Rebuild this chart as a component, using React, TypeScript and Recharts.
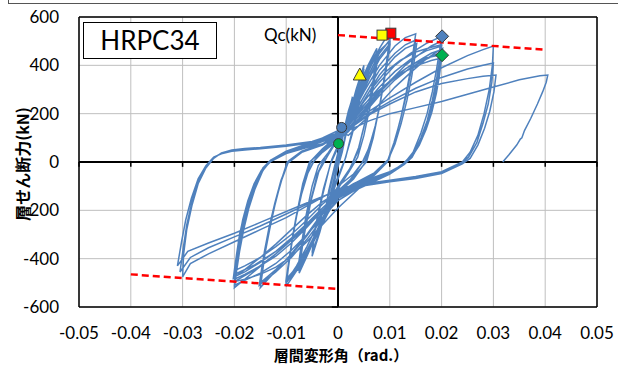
import { ComposedChart, Scatter, XAxis, YAxis, CartesianGrid, ReferenceLine } from 'recharts'

type Pt = [number, number]

const DRIFT_TICKS = [-0.05, -0.04, -0.03, -0.02, -0.01, 0, 0.01, 0.02, 0.03, 0.04, 0.05]
const FORCE_TICKS = [-600, -400, -200, 0, 200, 400, 600]

// 小振幅 (±0.0025, ±0.005)
const CYCLES_SMALL: Pt[] = [
  [0, 0], [0.001, 110], [0.002, 200], [0.0028, 270], [0.002, 170], [0.001, 70], [0, 0],
  [-0.001, -90], [-0.002, -180], [-0.0028, -250], [-0.002, -150], [-0.001, -60], [0, 20],
  [0.001, 120], [0.002, 210], [0.0028, 265], [0.0018, 140], [0.0008, 40], [0, -20],
  [-0.001, -110], [-0.002, -190], [-0.0028, -245], [-0.0018, -120], [-0.0008, -30], [0, 40],
  [0.002, 180], [0.0035, 300], [0.005, 400], [0.0045, 300], [0.003, 150], [0.0015, 20], [0, -60],
  [-0.002, -170], [-0.0035, -290], [-0.005, -390], [-0.0045, -290], [-0.003, -140], [-0.0015, -10], [0, 60],
  [0.002, 190], [0.0035, 295], [0.005, 385], [0.0043, 270], [0.0028, 120], [0.0012, 0], [0, -70],
  [-0.002, -180], [-0.0035, -285], [-0.005, -375], [-0.0043, -260], [-0.0028, -110], [-0.0012, 10], [0, 70],
]

// ±0.0075
const CYCLES_0075: Pt[] = [
  [0.002, 190], [0.004, 310], [0.0058, 400], [0.0075, 470], [0.0068, 340], [0.0055, 190], [0.004, 60],
  [0.0025, -20], [0, -100], [-0.002, -180], [-0.004, -290], [-0.006, -390], [-0.0075, -460],
  [-0.0068, -330], [-0.0055, -180], [-0.004, -50], [-0.0025, 20], [0, 90],
  [0.002, 185], [0.004, 300], [0.006, 400], [0.0075, 455], [0.0067, 320], [0.0053, 170], [0.0038, 40],
  [0.002, -40], [0, -105], [-0.002, -190], [-0.004, -295], [-0.006, -390], [-0.0075, -445],
  [-0.0066, -310], [-0.0052, -160], [-0.0037, -40], [-0.002, 25], [0, 95],
  [0.002, 175], [0.004, 290], [0.006, 385], [0.0078, 450], [0.0072, 360], [0.0062, 230], [0.005, 110], [0.0038, 20],
  [0.002, -45], [0, -110], [-0.002, -200], [-0.004, -300], [-0.006, -385], [-0.0078, -450],
  [-0.0072, -360], [-0.0062, -225], [-0.005, -100], [-0.0038, -15], [-0.002, 35], [0, 100],
]

// ±0.01
const CYCLES_010: Pt[] = [
  [0.002, 170], [0.004, 280], [0.006, 380], [0.008, 470], [0.0095, 522], [0.01, 530],
  [0.0096, 450], [0.009, 360], [0.0082, 250], [0.0068, 100], [0.0055, 0], [0.003, -60], [0, -120],
  [-0.002, -190], [-0.004, -280], [-0.006, -370], [-0.008, -450], [-0.01, -515],
  [-0.0096, -440], [-0.009, -350], [-0.0082, -240], [-0.0068, -90], [-0.0055, 0], [-0.003, 45], [0, 100],
  [0.002, 165], [0.004, 265], [0.006, 365], [0.008, 450], [0.01, 505],
  [0.0095, 430], [0.0088, 330], [0.008, 230], [0.0066, 90], [0.0052, -5], [0.003, -65], [0, -125],
  [-0.002, -195], [-0.004, -285], [-0.006, -370], [-0.008, -445], [-0.01, -500],
  [-0.0095, -425], [-0.0088, -320], [-0.008, -220], [-0.0066, -80], [-0.0052, 5], [-0.003, 50], [0, 105],
  [0.002, 160], [0.004, 255], [0.006, 350], [0.008, 435], [0.01, 490],
  [0.0095, 415], [0.0087, 310], [0.0079, 215], [0.0065, 80], [0.005, -10], [0.003, -70], [0, -130],
  [-0.002, -200], [-0.004, -285], [-0.006, -365], [-0.008, -435], [-0.01, -485],
  [-0.0095, -410], [-0.0087, -300], [-0.0079, -210], [-0.0065, -70], [-0.005, 10], [-0.003, 55], [0, 110],
  [0.002, 180], [0.004, 290], [0.006, 390], [0.008, 460], [0.01, 500],
  [0.0096, 440], [0.009, 350], [0.0082, 250], [0.0072, 150], [0.006, 60], [0.0048, 0], [0.003, -50], [0, -100],
  [-0.002, -170], [-0.004, -260], [-0.006, -350], [-0.008, -430], [-0.01, -495],
  [-0.0096, -430], [-0.009, -340], [-0.0082, -240], [-0.0072, -140], [-0.006, -55], [-0.0048, 0], [-0.003, 40], [0, 90],
  [0.002, 150], [0.004, 250], [0.006, 345], [0.008, 425], [0.01, 480],
  [0.0095, 410], [0.0088, 320], [0.008, 225], [0.007, 130], [0.0058, 50], [0.0046, -5], [0.003, -55], [0, -140],
  [-0.002, -215], [-0.004, -300], [-0.006, -380], [-0.008, -445], [-0.01, -490],
  [-0.0095, -415], [-0.0088, -320], [-0.008, -225], [-0.007, -130], [-0.0058, -45], [-0.0046, 5], [-0.003, 45], [0, 130],
]

// ±0.015
const CYCLES_015: Pt[] = [
  [0.002, 170], [0.005, 290], [0.008, 400], [0.011, 480], [0.013, 515], [0.015, 530],
  [0.0146, 470], [0.0141, 390], [0.0132, 290], [0.0122, 190], [0.011, 90], [0.0098, 10], [0.007, -50], [0.003, -90], [0, -130],
  [-0.003, -210], [-0.006, -300], [-0.009, -380], [-0.012, -450], [-0.015, -520],
  [-0.0146, -460], [-0.0141, -380], [-0.0132, -280], [-0.0122, -180], [-0.011, -80], [-0.0098, 0], [-0.007, 40], [-0.003, 70], [0, 110],
  [0.002, 160], [0.005, 270], [0.008, 380], [0.011, 450], [0.013, 485], [0.015, 505],
  [0.0146, 445], [0.014, 365], [0.0131, 270], [0.012, 170], [0.0108, 80], [0.0095, 0], [0.007, -55], [0.003, -95], [0, -135],
  [-0.003, -215], [-0.006, -305], [-0.009, -385], [-0.012, -445], [-0.015, -500],
  [-0.0146, -440], [-0.014, -360], [-0.0131, -260], [-0.012, -160], [-0.0108, -70], [-0.0095, 5], [-0.007, 45], [-0.003, 75], [0, 115],
  [0.002, 150], [0.005, 255], [0.008, 360], [0.011, 435], [0.013, 470], [0.0152, 490],
  [0.0148, 430], [0.0142, 350], [0.0133, 255], [0.0122, 160], [0.011, 75], [0.0097, 10], [0.007, -45], [0.003, -90], [0, -150],
  [-0.003, -235], [-0.006, -320], [-0.009, -395], [-0.012, -455], [-0.0152, -510],
  [-0.0148, -450], [-0.0142, -370], [-0.0133, -270], [-0.0122, -170], [-0.011, -75], [-0.0097, -5], [-0.007, 40], [-0.003, 70], [0, 110],
]

// ±0.02
const CYCLES_020: Pt[] = [
  [0.002, 160], [0.005, 250], [0.008, 330], [0.011, 400], [0.014, 450], [0.017, 490], [0.02, 520],
  [0.0196, 460], [0.019, 380], [0.0182, 290], [0.0172, 200], [0.016, 120], [0.0145, 40], [0.013, 0], [0.01, -45], [0.006, -80], [0.003, -105], [0, -140],
  [-0.004, -220], [-0.008, -300], [-0.012, -380], [-0.016, -450], [-0.02, -520],
  [-0.0196, -455], [-0.019, -370], [-0.0182, -280], [-0.0172, -190], [-0.016, -110], [-0.0145, -35], [-0.013, 5], [-0.01, 40], [-0.006, 62], [-0.003, 85], [0, 115],
  [0.002, 155], [0.005, 235], [0.008, 310], [0.011, 375], [0.014, 425], [0.017, 460], [0.02, 480],
  [0.0196, 420], [0.019, 340], [0.0182, 255], [0.0172, 170], [0.016, 100], [0.0145, 30], [0.013, -5], [0.01, -48], [0.006, -85], [0.003, -110], [0, -145],
  [-0.004, -225], [-0.008, -305], [-0.012, -380], [-0.016, -445], [-0.02, -495],
  [-0.0196, -430], [-0.019, -345], [-0.0182, -255], [-0.0172, -170], [-0.016, -95], [-0.0145, -25], [-0.013, 8], [-0.01, 42], [-0.006, 66], [-0.003, 88], [0, 118],
  [0.002, 150], [0.005, 225], [0.008, 295], [0.011, 355], [0.014, 400], [0.017, 430], [0.02, 445],
  [0.0196, 385], [0.019, 310], [0.0181, 225], [0.017, 150], [0.0158, 80], [0.0143, 20], [0.0128, -10], [0.01, -50], [0.006, -88], [0.003, -115], [0, -150],
  [-0.004, -225], [-0.008, -300], [-0.012, -370], [-0.016, -425], [-0.02, -465],
  [-0.0196, -400], [-0.019, -320], [-0.0181, -235], [-0.017, -155], [-0.0158, -85], [-0.0143, -25], [-0.0128, 10], [-0.01, 45], [-0.006, 70], [-0.003, 92], [0, 120],
  [0.002, 140], [0.004, 190], [0.007, 265], [0.01, 330], [0.013, 385], [0.016, 425], [0.018, 450], [0.02, 465],
  [0.0196, 400], [0.019, 320], [0.0182, 240], [0.0172, 160], [0.016, 90], [0.0145, 30], [0.013, -5], [0.01, -45], [0.006, -80], [0.003, -105], [0, -135],
  [-0.003, -200], [-0.006, -270], [-0.009, -335], [-0.012, -390], [-0.015, -430], [-0.018, -465], [-0.02, -485],
  [-0.0196, -420], [-0.019, -330], [-0.0182, -240], [-0.0172, -160], [-0.016, -90], [-0.0145, -30], [-0.013, 5], [-0.01, 40], [-0.006, 65], [-0.003, 85], [0, 110],
  [0.002, 130], [0.004, 180], [0.007, 260], [0.01, 335], [0.013, 400], [0.016, 450], [0.018, 480], [0.02, 500],
  [0.0197, 430], [0.0191, 340], [0.0183, 250], [0.0173, 165], [0.0161, 95], [0.0147, 35], [0.0132, 0], [0.01, -50], [0.006, -90], [0.003, -120], [0, -160],
  [-0.003, -230], [-0.006, -300], [-0.009, -365], [-0.012, -420], [-0.015, -460], [-0.018, -490], [-0.02, -510],
  [-0.0197, -440], [-0.0191, -345], [-0.0183, -250], [-0.0173, -165], [-0.0161, -95], [-0.0147, -35], [-0.0132, 0], [-0.01, 35], [-0.006, 60], [-0.003, 75], [0, 95],
  [0.002, 170], [0.004, 215], [0.007, 280], [0.01, 335], [0.013, 375], [0.016, 405], [0.018, 420], [0.02, 430],
  [0.0196, 360], [0.019, 285], [0.0181, 205], [0.017, 135], [0.0157, 70], [0.0142, 20], [0.0127, -10], [0.01, -40], [0.006, -70], [0.003, -95], [0, -120],
  [-0.003, -175], [-0.006, -240], [-0.009, -300], [-0.012, -350], [-0.015, -395], [-0.018, -430], [-0.02, -450],
  [-0.0196, -385], [-0.019, -300], [-0.0181, -215], [-0.017, -140], [-0.0157, -75], [-0.0142, -20], [-0.0127, 10], [-0.01, 45], [-0.006, 75], [-0.003, 100], [0, 130],
  [0.002, 110], [0.005, 170], [0.008, 240], [0.011, 310], [0.014, 370], [0.017, 425], [0.019, 455], [0.0202, 470],
  [0.0198, 410], [0.0192, 330], [0.0184, 245], [0.0174, 165], [0.0162, 95], [0.0148, 40], [0.0134, 5], [0.011, -35], [0.007, -70], [0.003, -100], [0, -125],
  [-0.003, -165], [-0.006, -220], [-0.009, -280], [-0.012, -340], [-0.015, -395], [-0.018, -445], [-0.0202, -480],
  [-0.0198, -415], [-0.0192, -330], [-0.0184, -240], [-0.0174, -160], [-0.0162, -90], [-0.0148, -35], [-0.0134, 0], [-0.011, 30], [-0.007, 55], [-0.003, 75], [0, 100],
  [0.002, 150], [0.004, 220], [0.006, 290], [0.009, 370], [0.012, 420], [0.015, 455], [0.018, 475], [0.02, 485],
  [0.0197, 425], [0.0191, 345], [0.0183, 260], [0.0174, 180], [0.0163, 110], [0.015, 55], [0.0136, 15], [0.012, -20], [0.008, -60], [0.004, -110], [0, -190],
  [-0.003, -260], [-0.006, -330], [-0.009, -390], [-0.012, -435], [-0.015, -465], [-0.018, -485], [-0.02, -495],
  [-0.0197, -435], [-0.0191, -350], [-0.0183, -260], [-0.0174, -175], [-0.0163, -105], [-0.015, -50], [-0.0136, -10], [-0.012, 20], [-0.008, 50], [-0.004, 70], [0, 90],
  [0.002, 125], [0.005, 200], [0.008, 275], [0.011, 340], [0.014, 390], [0.017, 425], [0.02, 455],
  [0.0196, 390], [0.019, 305], [0.0181, 220], [0.017, 145], [0.0157, 80], [0.0142, 25], [0.0126, -10], [0.01, -40], [0.006, -75], [0.003, -100], [0, -130],
  [-0.003, -190], [-0.006, -255], [-0.009, -315], [-0.012, -370], [-0.015, -415], [-0.018, -455], [-0.02, -475],
  [-0.0196, -410], [-0.019, -325], [-0.0181, -235], [-0.017, -150], [-0.0157, -80], [-0.0142, -25], [-0.0126, 10], [-0.01, 40], [-0.006, 68], [-0.003, 90], [0, 115],
]

// ±0.03
const CYCLES_030: Pt[] = [
  [0.003, 160], [0.006, 210], [0.01, 265], [0.015, 330], [0.02, 390], [0.025, 440], [0.028, 465], [0.03, 480],
  [0.0298, 400], [0.0292, 300], [0.0282, 200], [0.027, 110], [0.0255, 40], [0.024, 0], [0.02, -40],
  [0.015, -60], [0.01, -75], [0.005, -90], [0, -110], [-0.005, -170], [-0.01, -230], [-0.015, -280],
  [-0.02, -330], [-0.025, -380], [-0.0285, -420], [-0.03, -475],
  [-0.0298, -380], [-0.0292, -280], [-0.0282, -180], [-0.027, -90], [-0.0255, -25], [-0.024, 15],
  [-0.0225, 38], [-0.0205, 50], [-0.018, 56], [-0.015, 60], [-0.01, 70], [-0.005, 85], [0, 120],
  [0.003, 155], [0.006, 200], [0.01, 250], [0.015, 305], [0.02, 350], [0.025, 385], [0.028, 400], [0.03, 410],
  [0.0297, 330], [0.029, 240], [0.028, 160], [0.0268, 80], [0.0252, 20], [0.0238, -5], [0.02, -45],
  [0.015, -65], [0.01, -80], [0.005, -95], [0, -115], [-0.005, -165], [-0.01, -215], [-0.015, -265],
  [-0.02, -310], [-0.025, -355], [-0.0285, -395], [-0.0305, -455],
  [-0.0299, -360], [-0.0292, -260], [-0.0282, -165], [-0.027, -80], [-0.0255, -20], [-0.024, 18],
  [-0.0225, 36], [-0.0205, 47], [-0.018, 52], [-0.015, 58], [-0.01, 68], [-0.005, 82], [0, 115],
  [0.003, 150], [0.006, 195], [0.01, 240], [0.015, 290], [0.02, 325], [0.025, 345], [0.028, 355], [0.0305, 360],
  [0.0301, 290], [0.0293, 210], [0.0283, 140], [0.027, 70], [0.0255, 15], [0.024, -8], [0.02, -48],
  [0.015, -68], [0.01, -82], [0.005, -98], [0, -118], [-0.005, -160], [-0.01, -205], [-0.015, -250],
  [-0.02, -295], [-0.025, -335], [-0.029, -370], [-0.031, -430],
  [-0.0302, -330], [-0.0294, -240], [-0.0283, -150], [-0.027, -70], [-0.0255, -15], [-0.024, 20],
  [-0.0225, 34], [-0.0205, 44], [-0.018, 50], [-0.015, 55], [-0.01, 65], [-0.005, 80], [0, 110],
]

// 最終 +0.04 → 除荷
const FINAL_040: Pt[] = [
  [0.003, 140], [0.006, 170], [0.01, 200], [0.015, 225], [0.02, 250], [0.025, 280], [0.03, 310],
  [0.035, 340], [0.039, 357], [0.0405, 360],
  [0.0402, 330], [0.0395, 290], [0.0385, 240], [0.0372, 180], [0.036, 130], [0.0355, 100],
  [0.0352, 95], [0.0345, 70], [0.033, 30], [0.0318, 0],
]

const HYSTERESIS = [
  ...CYCLES_SMALL, ...CYCLES_0075, ...CYCLES_010, ...CYCLES_015, ...CYCLES_020, ...CYCLES_030, ...FINAL_040,
].map(([x, y]) => ({ x, y }))

// Qc 計算値ライン
const QC_POS = [{ x: 0, y: 525 }, { x: 0.04, y: 465 }]
const QC_NEG = [{ x: -0.04, y: -465 }, { x: 0, y: -525 }]

// 特性点
const PT_RED_SQ = [{ x: 0.0102, y: 533 }]
const PT_YEL_SQ = [{ x: 0.0085, y: 525 }]
const PT_YEL_TRI = [{ x: 0.0042, y: 360 }]
const PT_BLUE_DIA = [{ x: 0.0201, y: 520 }]
const PT_GREEN_DIA = [{ x: 0.0201, y: 442 }]
const PT_BLUE_CIR = [{ x: 0.0007, y: 143 }]
const PT_GREEN_CIR = [{ x: 0.0001, y: 76 }]

const BLUE = '#4f81bd'
const FONT = 'Lato, "Noto Sans", sans-serif'
const JP = '"Noto Sans CJK JP", sans-serif'

const none = () => <g />

const square = (fill: string) => (p: any) => (
  <rect x={p.cx - 5} y={p.cy - 5} width={10} height={10} fill={fill} stroke="#3a3a3a" strokeWidth={1} />
)
const triangle = (fill: string) => (p: any) => (
  <polygon points={`${p.cx},${p.cy - 7} ${p.cx + 6.5},${p.cy + 5} ${p.cx - 6.5},${p.cy + 5}`} fill={fill} stroke="#3a3a3a" strokeWidth={1} />
)
const diamond = (fill: string) => (p: any) => (
  <polygon points={`${p.cx},${p.cy - 6.5} ${p.cx + 6.5},${p.cy} ${p.cx},${p.cy + 6.5} ${p.cx - 6.5},${p.cy}`} fill={fill} stroke="#3a3a3a" strokeWidth={1} />
)
const circle = (fill: string) => (p: any) => (
  <circle cx={p.cx} cy={p.cy} r={5} fill={fill} stroke="#3a3a3a" strokeWidth={1} />
)

export default function App() {
  return (
    <div style={{ position: 'absolute', left: 0, top: 0, width: 618, height: 367, background: '#fff', fontFamily: FONT, overflow: 'hidden' }}>
      <div style={{ position: 'absolute', left: 8, top: 0, width: 610, height: 3, borderLeft: '1px solid #555', borderBottom: '1px solid #555' }} />
      <ComposedChart width={618} height={367} margin={{ top: 17, right: 21, bottom: 30, left: 0 }}>
        <CartesianGrid stroke="#bfbfbf" strokeWidth={1} />
        <XAxis
          type="number"
          dataKey="x"
          domain={[-0.05, 0.05]}
          ticks={DRIFT_TICKS}
          allowDataOverflow
          height={30}
          tickLine={false}
          tickSize={0}
          tickMargin={20}
          axisLine={{ stroke: '#000', strokeWidth: 1.5 }}
          tick={{ fontSize: 17, fill: '#000', fontFamily: FONT }}
        />
        <YAxis
          type="number"
          dataKey="y"
          domain={[-600, 600]}
          ticks={FORCE_TICKS}
          allowDataOverflow
          width={79}
          tickLine={false}
          tickSize={0}
          tickMargin={20}
          axisLine={{ stroke: '#000', strokeWidth: 1.5 }}
          tick={{ fontSize: 17, fill: '#000', fontFamily: FONT }}
        />
        <ReferenceLine y={600} stroke="#000" strokeWidth={1.5} />
        <ReferenceLine x={0.05} stroke="#000" strokeWidth={1.5} />
        <ReferenceLine y={0} stroke="#000" strokeWidth={2} />
        <ReferenceLine x={0} stroke="#000" strokeWidth={2} />
        {DRIFT_TICKS.map((t) => (
          <ReferenceLine key={`xt${t}`} segment={[{ x: t, y: 0 }, { x: t, y: -20 }]} stroke="#000" strokeWidth={1.5} />
        ))}
        {FORCE_TICKS.map((t) => (
          <ReferenceLine key={`yt${t}`} segment={[{ x: 0, y: t }, { x: -0.0012, y: t }]} stroke="#000" strokeWidth={1.5} />
        ))}
        <Scatter
          data={HYSTERESIS}
          fill={BLUE}
          line={{ stroke: BLUE, strokeWidth: 1.5 }}
          lineType="joint"
          shape={none}
          isAnimationActive={false}
        />
        <Scatter
          data={QC_POS}
          fill="#ff0000"
          line={{ stroke: '#ff0000', strokeWidth: 2.5, strokeDasharray: '7 4' }}
          lineType="joint"
          shape={none}
          isAnimationActive={false}
        />
        <Scatter
          data={QC_NEG}
          fill="#ff0000"
          line={{ stroke: '#ff0000', strokeWidth: 2.5, strokeDasharray: '7 4' }}
          lineType="joint"
          shape={none}
          isAnimationActive={false}
        />
        <Scatter data={PT_RED_SQ} shape={square('#ff0000')} isAnimationActive={false} />
        <Scatter data={PT_YEL_SQ} shape={square('#ffff00')} isAnimationActive={false} />
        <Scatter data={PT_YEL_TRI} shape={triangle('#ffff00')} isAnimationActive={false} />
        <Scatter data={PT_BLUE_DIA} shape={diamond(BLUE)} isAnimationActive={false} />
        <Scatter data={PT_GREEN_DIA} shape={diamond('#00b050')} isAnimationActive={false} />
        <Scatter data={PT_BLUE_CIR} shape={circle(BLUE)} isAnimationActive={false} />
        <Scatter data={PT_GREEN_CIR} shape={circle('#00b050')} isAnimationActive={false} />
      </ComposedChart>
      <div
        style={{
          position: 'absolute', left: 83, top: 22, width: 132, height: 35, border: '1px solid #000',
          background: '#fff', fontSize: 26, lineHeight: '35px', textAlign: 'center', color: '#000',
        }}
      >
        HRPC34
      </div>
      <div style={{ position: 'absolute', left: 264, top: 25, fontSize: 17, lineHeight: '20px', color: '#000' }}>Qc(kN)</div>
      <div
        style={{
          position: 'absolute', left: 341, top: 347, transform: 'translateX(-50%)', whiteSpace: 'nowrap',
          fontFamily: JP, fontWeight: 700, fontSize: 15, lineHeight: '16px', color: '#000',
        }}
      >
        層間変形角（rad.）
      </div>
      <div
        style={{
          position: 'absolute', left: 22, top: 164, transform: 'translate(-50%, -50%) rotate(-90deg)', whiteSpace: 'nowrap',
          fontFamily: JP, fontWeight: 700, fontSize: 16, lineHeight: '18px', color: '#000',
        }}
      >
        層せん断力(kN)
      </div>
    </div>
  )
}
